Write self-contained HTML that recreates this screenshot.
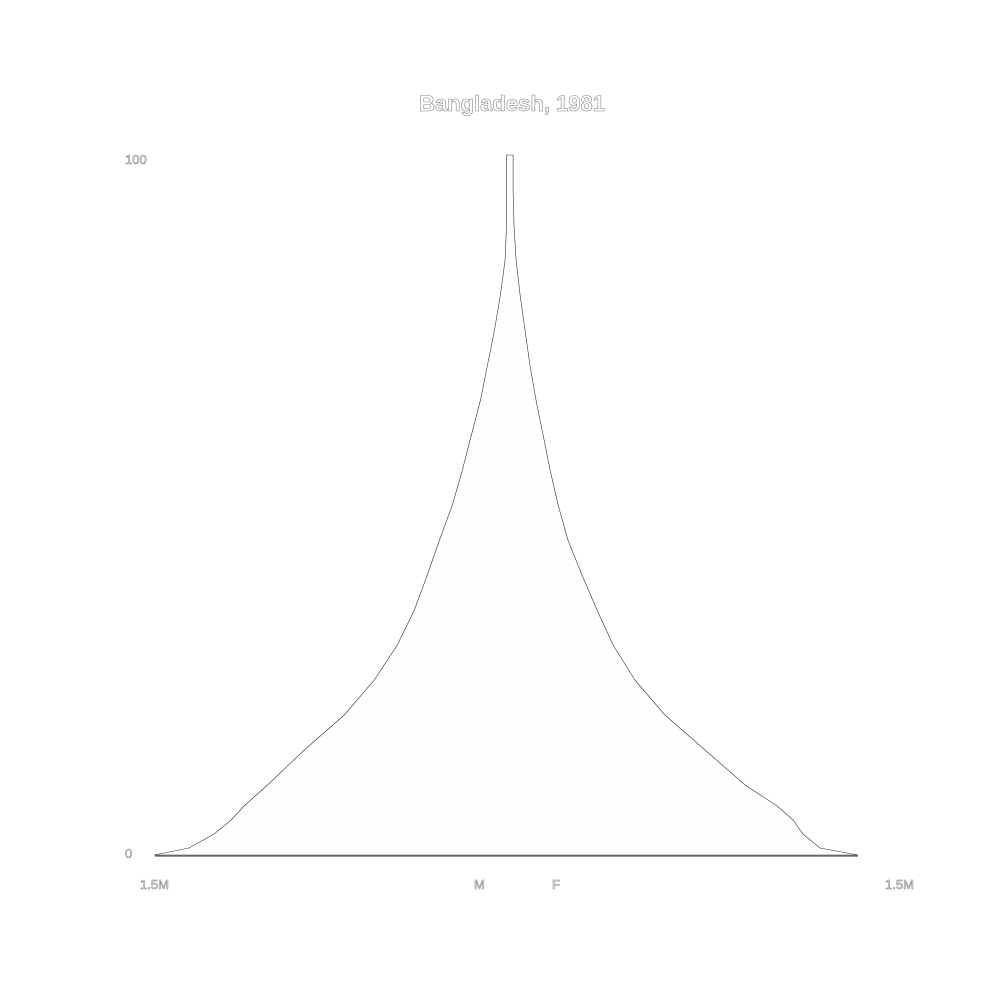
<!DOCTYPE html>
<html><head><meta charset="utf-8"><style>body{margin:0;background:#fff}svg text{font-family:"Liberation Sans",sans-serif;fill:#fff;stroke:#888;stroke-width:0.6}</style></head>
<body>
<svg id="chart" width="1000" height="1000" xmlns="http://www.w3.org/2000/svg">
<rect width="1000" height="1000" fill="#fff"/>
<text x="512" y="111" font-size="22" font-weight="bold" text-anchor="middle">Bangladesh, 1981</text>
<text x="125" y="164" font-size="13">100</text>
<text x="125" y="858" font-size="13">0</text>
<text x="140" y="889" font-size="13">1.5M</text>
<text x="474" y="889" font-size="13">M</text>
<text x="552" y="889" font-size="13">F</text>
<text x="885" y="889" font-size="13">1.5M</text>
<g id="marks"></g>
</svg>
<script>
const ages=[0,1,3,5,7,10,15,20,25,30,35,40,45,50,55,60,65,70,75,80,85,90,95,100];
const male=[1.504,1.355,1.248,1.175,1.12,1.02,0.863,0.692,0.564,0.466,0.393,0.338,0.286,0.231,0.188,0.150,0.111,0.081,0.051,0.026,0.006,0,0,0];
const female=[1.50,1.338,1.265,1.223,1.155,1.018,0.847,0.676,0.548,0.455,0.386,0.322,0.262,0.220,0.186,0.156,0.126,0.100,0.079,0.058,0.041,0.032,0.028,0.028];
const X0=155,X1=858,CX=(X0+X1)/2,S=(X1-X0)/3;
const y=a=>855-a*7;
const xm=v=>CX-v*S, xf=v=>CX+v*S;
let pts=[];
for(let i=0;i<ages.length;i++)pts.push([xm(male[i]),y(ages[i])]);
for(let i=ages.length-1;i>=0;i--)pts.push([xf(female[i]),y(ages[i])]);
const g=document.getElementById('marks');
const ns='http://www.w3.org/2000/svg';
const area=document.createElementNS(ns,'path');


area.setAttribute('d','M'+pts.map(p=>p[0].toFixed(1)+','+p[1].toFixed(1)).join('L')+'Z');
area.setAttribute('fill','#fefefe');area.setAttribute('stroke','#333');area.setAttribute('stroke-width','0.6');
g.appendChild(area);
const base=document.createElementNS(ns,'line');


base.setAttribute('x1',X0);base.setAttribute('x2',X1);base.setAttribute('y1',856);base.setAttribute('y2',856);
base.setAttribute('stroke','#333');base.setAttribute('stroke-width','1');
g.appendChild(base);
</script>
</body></html>
